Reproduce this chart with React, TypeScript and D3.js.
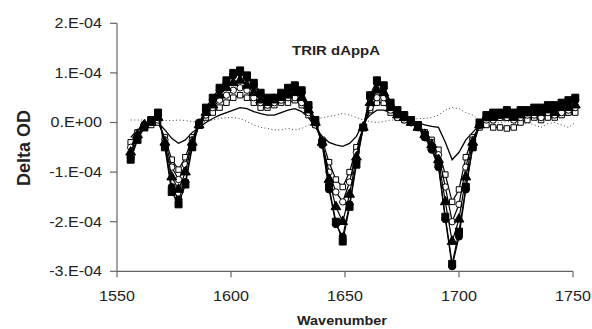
import { useEffect, useRef } from 'react';
import * as d3 from 'd3';

// wavenumber (cm-1) of each sample
const wavenumbers = [
  1556, 1559, 1562, 1565, 1568, 1571, 1574, 1577, 1580, 1583, 1586,
  1589, 1592, 1595, 1598, 1601, 1604, 1607, 1610, 1613, 1616, 1619,
  1622, 1625, 1628, 1631, 1634, 1637, 1640, 1643, 1646, 1649, 1652,
  1655, 1658, 1661, 1664, 1667, 1670, 1673, 1676, 1679, 1682, 1685,
  1688, 1691, 1694, 1697, 1700, 1703, 1706, 1709, 1712, 1715, 1718,
  1721, 1724, 1727, 1730, 1733, 1736, 1739, 1742, 1745, 1748, 1751,
];

// Delta OD, in units of 1E-04
const filledSquares = [
  -0.75, -0.35, -0.1, 0.05, 0.2, -0.5, -1.4, -1.65, -1.25, -0.5, -0.05,
  0.3, 0.5, 0.7, 0.85, 1.0, 1.05, 0.95, 0.8, 0.6, 0.5, 0.5,
  0.6, 0.7, 0.75, 0.65, 0.35, 0.05, -0.4, -1.3, -2.0, -2.4, -1.7,
  -0.85, -0.1, 0.55, 0.85, 0.75, 0.4, 0.25, 0.15, 0.05, -0.05, -0.25,
  -0.5, -0.85, -1.9, -2.85, -2.2, -1.3, -0.5, 0.0, 0.15, 0.2, 0.2,
  0.25, 0.2, 0.25, 0.25, 0.3, 0.3, 0.35, 0.35, 0.4, 0.45, 0.5,
];

const filledCircles = [
  -0.7, -0.3, -0.05, 0.05, 0.15, -0.45, -1.3, -1.55, -1.2, -0.45, 0.0,
  0.25, 0.45, 0.65, 0.8, 0.95, 1.0, 0.9, 0.75, 0.55, 0.45, 0.5,
  0.55, 0.65, 0.7, 0.6, 0.3, 0.0, -0.45, -1.35, -2.05, -2.3, -1.65,
  -0.8, -0.1, 0.5, 0.8, 0.7, 0.35, 0.2, 0.1, 0.0, -0.1, -0.3,
  -0.55, -0.9, -1.95, -2.9, -2.3, -1.35, -0.5, -0.05, 0.1, 0.15, 0.15,
  0.2, 0.15, 0.2, 0.2, 0.25, 0.25, 0.3, 0.3, 0.35, 0.4, 0.45,
];

const filledTriangles = [
  -0.6, -0.25, -0.05, 0.0, 0.1, -0.4, -1.1, -1.35, -1.0, -0.4, -0.05,
  0.2, 0.35, 0.55, 0.7, 0.8, 0.85, 0.75, 0.6, 0.45, 0.4, 0.45,
  0.5, 0.55, 0.6, 0.5, 0.25, 0.0, -0.4, -1.15, -1.7, -2.0, -1.45,
  -0.7, -0.1, 0.4, 0.65, 0.6, 0.3, 0.15, 0.1, 0.0, -0.1, -0.25,
  -0.45, -0.75, -1.6, -2.4, -1.95, -1.1, -0.4, -0.05, 0.1, 0.1, 0.15,
  0.15, 0.1, 0.15, 0.2, 0.2, 0.2, 0.25, 0.2, 0.3, 0.3, 0.35,
];

const openCircles = [
  -0.5, -0.2, -0.05, 0.0, 0.05, -0.35, -0.9, -1.15, -0.85, -0.35, -0.05,
  0.15, 0.3, 0.45, 0.55, 0.65, 0.7, 0.65, 0.5, 0.4, 0.35, 0.4,
  0.45, 0.5, 0.5, 0.4, 0.2, -0.05, -0.4, -1.0, -1.4, -1.6, -1.2,
  -0.6, -0.1, 0.3, 0.5, 0.5, 0.25, 0.1, 0.05, 0.0, -0.1, -0.2,
  -0.4, -0.65, -1.3, -2.0, -1.65, -0.9, -0.35, -0.05, 0.05, 0.05, 0.1,
  0.1, 0.05, 0.1, 0.15, 0.15, 0.1, 0.2, 0.15, 0.2, 0.25, 0.3,
];

const openSquares = [
  -0.4, -0.2, -0.05, -0.05, 0.0, -0.3, -0.75, -0.95, -0.7, -0.3, -0.05,
  0.1, 0.2, 0.3, 0.4, 0.5, 0.55, 0.5, 0.4, 0.3, 0.3, 0.35,
  0.4, 0.4, 0.45, 0.35, 0.15, -0.05, -0.35, -0.8, -1.15, -1.3, -1.0,
  -0.5, -0.1, 0.25, 0.4, 0.4, 0.2, 0.1, 0.05, 0.0, -0.1, -0.2,
  -0.35, -0.55, -1.05, -1.6, -1.35, -0.7, -0.3, -0.1, -0.05, -0.1, -0.1,
  -0.12, -0.1, 0.0, 0.05, 0.1, 0.05, 0.1, 0.1, 0.15, 0.2, 0.2,
];

const solidLine = [
  -0.3, -0.15, -0.05, -0.02, 0.0, -0.15, -0.32, -0.42, -0.35, -0.2, -0.1,
  0.0, 0.08, 0.15, 0.2, 0.25, 0.3, 0.28, 0.22, 0.18, 0.15, 0.15,
  0.2, 0.25, 0.28, 0.22, 0.1, -0.1, -0.28, -0.4, -0.45, -0.48, -0.42,
  -0.28, 0.0, 0.15, 0.25, 0.25, 0.2, 0.15, 0.1, 0.05, 0.0, -0.05,
  -0.08, -0.1, -0.4, -0.75, -0.6, -0.35, -0.2, -0.05, 0.05, 0.05, 0.05,
  0.05, 0.05, 0.1, 0.1, 0.1, 0.1, 0.15, 0.1, 0.15, 0.15, 0.2,
];

const dottedLine = [
  0.05, 0.05, 0.05, 0.05, 0.05, 0.04, 0.04, 0.05, 0.04, 0.02, 0.0,
  0.02, 0.05, 0.08, 0.1, 0.1, 0.08, 0.02, -0.05, -0.1, -0.12, -0.15,
  -0.15, -0.12, -0.15, -0.12, -0.05, 0.05, 0.1, 0.12, 0.15, 0.18, 0.15,
  0.1, 0.05, 0.02, 0.0, 0.02, 0.05, 0.05, 0.05, 0.05, 0.08, 0.08,
  0.1, 0.15, 0.25, 0.3, 0.28, 0.2, 0.15, 0.05, 0.0, -0.02, 0.0,
  0.02, 0.0, -0.05, 0.0, -0.05, -0.1, -0.02, 0.0, -0.05, -0.1, 0.0,
];

const xTicks = [1550, 1600, 1650, 1700, 1750];
const yTicks = [2, 1, 0, -1, -2, -3];
const yTickLabels = ['2.E-04', '1.E-04', '0.E+00', '-1.E-04', '-2.E-04', '-3.E-04'];

const WIDTH = 592;
const HEIGHT = 329;

export default function App() {
  const svgRef = useRef<SVGSVGElement>(null);

  useEffect(() => {
    if (!svgRef.current) return;
    const svg = d3.select(svgRef.current);
    svg.selectAll('*').remove();

    const font = 'Arial, "Liberation Sans", sans-serif';
    const x = d3.scaleLinear().domain([1550, 1750]).range([117, 573]);
    const y = d3.scaleLinear().domain([-3, 2]).range([271.3, 23.3]);
    const axisColor = '#666';
    const textColor = '#222';

    const line = d3.line<number>()
      .x((_, i) => x(wavenumbers[i]))
      .y(d => y(d));

    // plain lines first
    svg.append('path')
      .attr('d', line(dottedLine))
      .attr('fill', 'none')
      .attr('stroke', '#444')
      .attr('stroke-width', 1)
      .attr('stroke-dasharray', '1,2.5');

    svg.append('path')
      .attr('d', line(solidLine))
      .attr('fill', 'none')
      .attr('stroke', '#000')
      .attr('stroke-width', 1.3);

    const series = [
      { values: openSquares, symbol: d3.symbolSquare, size: 30, fill: '#fff' },
      { values: openCircles, symbol: d3.symbolCircle, size: 32, fill: '#fff' },
      { values: filledTriangles, symbol: d3.symbolTriangle, size: 42, fill: '#000' },
      { values: filledCircles, symbol: d3.symbolCircle, size: 40, fill: '#000' },
      { values: filledSquares, symbol: d3.symbolSquare, size: 49, fill: '#000' },
    ];

    series.forEach(s => {
      const g = svg.append('g');
      g.append('path')
        .attr('d', line(s.values))
        .attr('fill', 'none')
        .attr('stroke', '#000')
        .attr('stroke-width', 1.2);
      g.selectAll('path.m')
        .data(s.values)
        .join('path')
        .attr('class', 'm')
        .attr('transform', (d, i) => `translate(${x(wavenumbers[i])},${y(d)})`)
        .attr('d', d3.symbol(s.symbol, s.size)())
        .attr('fill', s.fill)
        .attr('stroke', '#000')
        .attr('stroke-width', 1);
    });

    // Y axis
    svg.append('line')
      .attr('x1', x(1550)).attr('x2', x(1550))
      .attr('y1', y(2)).attr('y2', y(-3))
      .attr('stroke', axisColor).attr('stroke-width', 1.2);
    yTicks.forEach((t, i) => {
      svg.append('line')
        .attr('x1', x(1550) - 7).attr('x2', x(1550))
        .attr('y1', y(t)).attr('y2', y(t))
        .attr('stroke', axisColor).attr('stroke-width', 1.2);
      svg.append('text')
        .attr('transform', `translate(102,${y(t)}) scale(1.15,1)`)
        .attr('dy', '0.35em')
        .attr('text-anchor', 'end')
        .attr('font-family', font)
        .attr('font-size', 14)
        .attr('fill', textColor)
        .text(yTickLabels[i]);
    });

    // X axis
    svg.append('line')
      .attr('x1', x(1550)).attr('x2', x(1750))
      .attr('y1', y(-3)).attr('y2', y(-3))
      .attr('stroke', axisColor).attr('stroke-width', 1.2);
    xTicks.forEach(t => {
      svg.append('line')
        .attr('x1', x(t)).attr('x2', x(t))
        .attr('y1', y(-3)).attr('y2', y(-3) + 6)
        .attr('stroke', axisColor).attr('stroke-width', 1.2);
      svg.append('text')
        .attr('transform', `translate(${x(t)},301) scale(1.15,1)`)
        .attr('text-anchor', 'middle')
        .attr('font-family', font)
        .attr('font-size', 14)
        .attr('fill', textColor)
        .text(t);
    });

    // Title + axis titles
    svg.append('text')
      .attr('transform', 'translate(336,55) scale(1.15,1)')
      .attr('text-anchor', 'middle')
      .attr('font-family', font)
      .attr('font-size', 13)
      .attr('font-weight', 'bold')
      .attr('fill', textColor)
      .text('TRIR dAppA');

    svg.append('text')
      .attr('transform', 'translate(342,325) scale(1.2,1)')
      .attr('text-anchor', 'middle')
      .attr('font-family', font)
      .attr('font-size', 12)
      .attr('font-weight', 'bold')
      .attr('fill', textColor)
      .text('Wavenumber');

    svg.append('text')
      .attr('transform', 'translate(30,148) rotate(-90)')
      .attr('text-anchor', 'middle')
      .attr('font-family', font)
      .attr('font-size', 18)
      .attr('font-weight', 'bold')
      .attr('fill', textColor)
      .text('Delta OD');
  }, []);

  return (
    <svg
      ref={svgRef}
      width={WIDTH}
      height={HEIGHT}
      style={{ position: 'absolute', left: 0, top: 0, background: '#fff' }}
    />
  );
}
